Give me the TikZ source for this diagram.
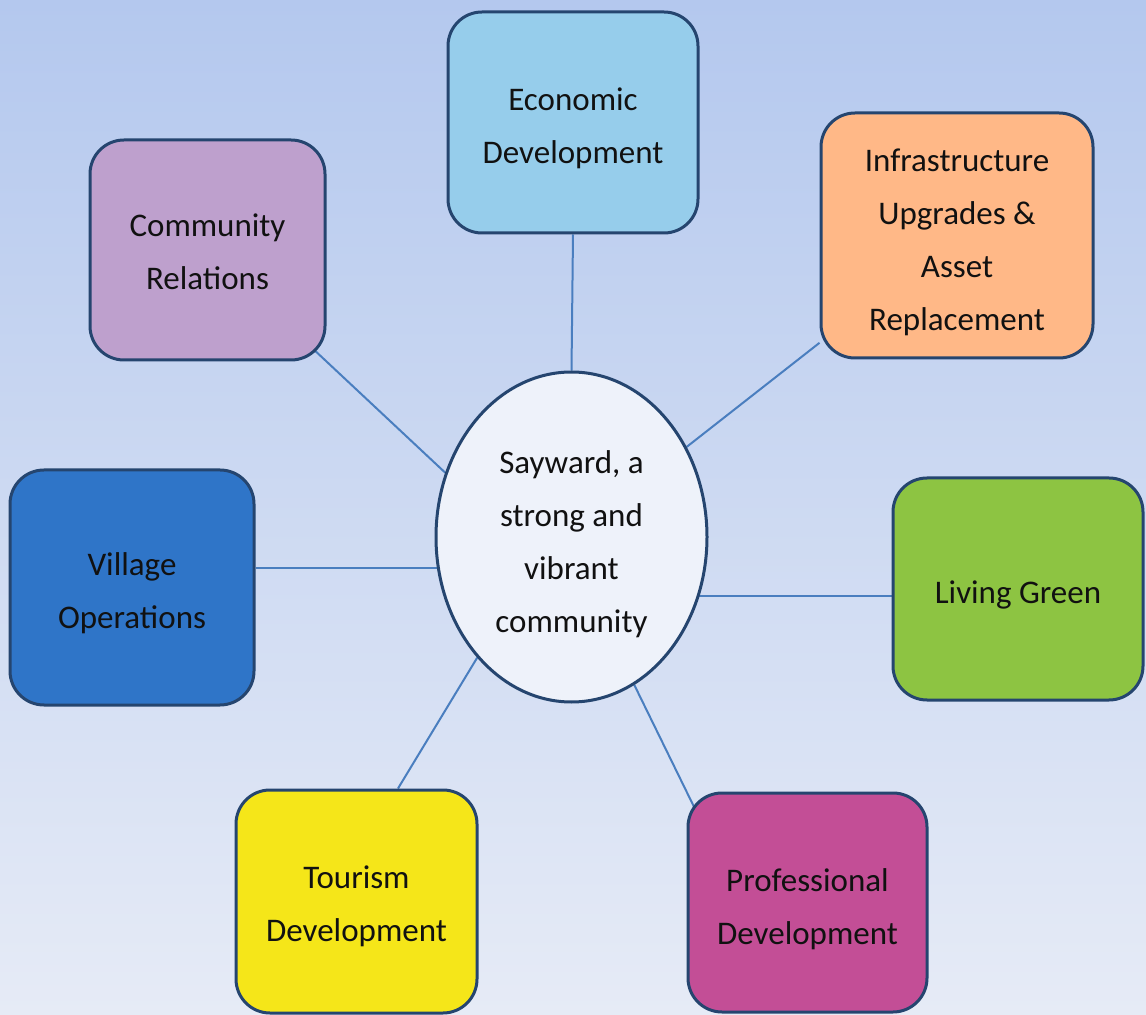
\documentclass[tikz,border=0pt]{standalone}
\usepackage{fontspec}
\setmainfont{Carlito}
\usetikzlibrary{shapes.geometric,calc,backgrounds}
\definecolor{bgtop}{HTML}{B4C8EE}
\definecolor{bgbot}{HTML}{E6EBF6}
\definecolor{bordc}{HTML}{25456F}
\definecolor{linkc}{HTML}{4A7EBF}
\definecolor{txtc}{HTML}{111111}
\definecolor{commc}{HTML}{BEA0CD}
\definecolor{econc}{HTML}{96CDEB}
\definecolor{infrac}{HTML}{FFB887}
\definecolor{villc}{HTML}{2F75C8}
\definecolor{lgc}{HTML}{8DC442}
\definecolor{tourc}{HTML}{F5E619}
\definecolor{profc}{HTML}{C34E96}
\definecolor{hubc}{HTML}{EEF2FA}
\newcommand\mlines[2][-2pt]{\raisebox{#1}[\height][\depth]{\begin{tabular}{@{}c@{}}#2\end{tabular}}}
\begin{document}
\begin{tikzpicture}[x=0.5pt,y=-0.5pt,
  txt/.style={text=txtc, inner sep=0pt, font=\fontsize{16.5}{26.5}\selectfont},
  box/.style={txt, draw=bordc, line width=1.5pt, rounded corners=17pt},
  link/.style={draw=linkc, line width=1pt}]
\useasboundingbox (0,0) rectangle (1146,1015);
\node[box, fill=commc, minimum width=117.5pt, minimum height=110pt] (comm) at (207.5,250) {\mlines[-1pt]{Community\\Relations}};
\node[box, fill=econc, minimum width=125pt, minimum height=110.5pt] (econ) at (573,122.5) {\mlines{Economic\\Development}};
\node[box, fill=infrac, minimum width=136pt, minimum height=122.5pt] (infra) at (957,235.5) {\mlines[-2.5pt]{Infrastructure\\Upgrades \&\\Asset\\Replacement}};
\node[box, fill=villc, minimum width=122pt, minimum height=117.5pt] (vill) at (132,587.5) {\mlines{Village\\Operations}};
\node[box, fill=lgc, minimum width=125pt, minimum height=111pt] (lg) at (1018,589) {\mlines{Living Green}};
\node[box, fill=tourc, minimum width=120.5pt, minimum height=111.5pt] (tour) at (356.5,901.5) {\mlines[-1.5pt]{Tourism\\Development}};
\node[box, fill=profc, minimum width=119.5pt, minimum height=109.5pt] (prof) at (807.5,902.5) {\mlines[-2.5pt]{Professional\\Development}};
\node[txt, ellipse, draw=bordc, line width=1.5pt, fill=hubc, minimum width=135.5pt, minimum height=165pt] (hub) at (571.5,537) {\mlines[-2.5pt]{Sayward, a\\strong and\\vibrant\\community}};
\begin{scope}[on background layer]
  \shade[top color=bgtop, bottom color=bgbot] (0,0) rectangle (1146,1015);
  \draw[link] (econ.south) -- (hub.north);
  \draw[link] (infra) -- (hub);
  \draw[link] (hub.153) -- ($(hub.153)!1.3!(comm.south east)$);
  \coordinate (vp) at ($(vill.north east)!0.42!(vill.south east)$);
  \draw[link] (vp) -- (vp -| hub.center);
  \coordinate (lp) at ($(lg.north west)!0.53!(lg.south west)$);
  \draw[link] (lp) -- (lp -| hub.center);
  \coordinate (tp) at ($(tour.north west)!0.67!(tour.north east)$);
  \draw[link] (hub.232) -- (tp);
  \draw[link] (hub.-67) -- ($(hub.-67)!1.25!(prof.north west)$);
\end{scope}
\end{tikzpicture}
\end{document}
